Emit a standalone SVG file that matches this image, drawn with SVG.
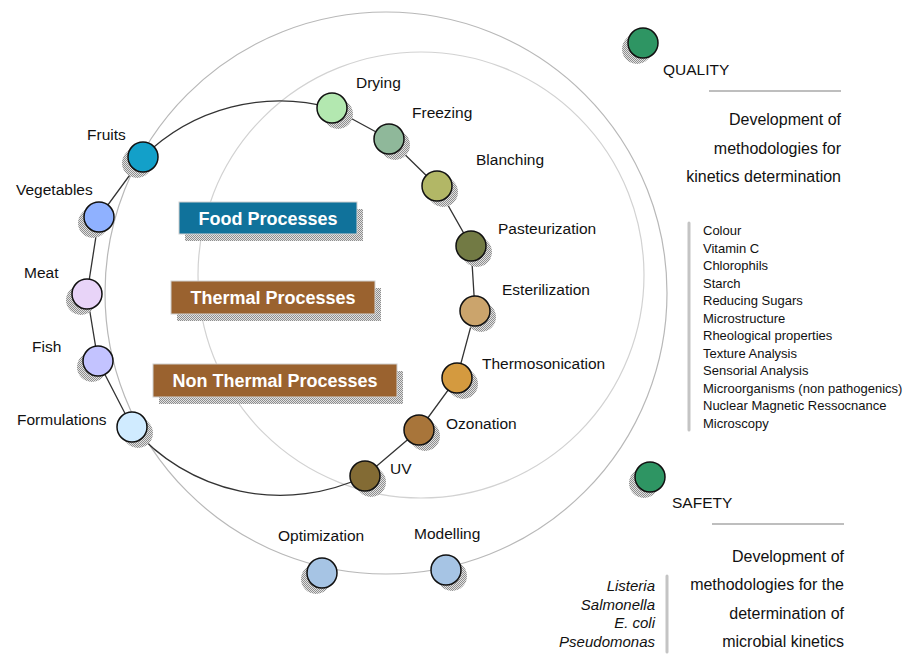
<svg xmlns="http://www.w3.org/2000/svg" width="922" height="660" viewBox="0 0 922 660">
  <defs>
    <!-- stippled grey used for the drop shadows -->
    <pattern id="dither" width="2" height="2" patternUnits="userSpaceOnUse">
      <rect width="2" height="2" fill="#e2e2e2"/>
      <rect width="1" height="1" fill="#8e8e8e"/>
      <rect x="1" y="1" width="1" height="1" fill="#8e8e8e"/>
    </pattern>
    <style>
      text { font-family: "Liberation Sans", Arial, sans-serif; fill: #111; }
      .lbl { font-size: 15.5px; }
      .desc { font-size: 16px; text-anchor: end; }
      .item { font-size: 13px; }
      .bug { font-size: 15px; font-style: italic; text-anchor: end; }
      .box-t { font-size: 18px; font-weight: bold; fill: #fff; text-anchor: middle; }
      .node { stroke: #111; stroke-width: 1.5; }
      .shadow { fill: url(#dither); }
      .ring { fill: none; stroke-width: 1.2; }
      .rule { stroke: #a8a8a8; stroke-width: 1.5; }
      .bar { stroke: #c4c4c4; stroke-width: 3; stroke-linecap: round; }
    </style>
  </defs>

  <rect width="922" height="660" fill="#fff"/>

  <!-- background rings -->
  <g id="rings">
    <circle class="ring" cx="386" cy="293" r="281" stroke="#b8b8b8"/>
    <circle class="ring" cx="421" cy="275" r="223" stroke="#d2d2d2"/>
  </g>

  <!-- process loop -->
  <g id="connectors">
    <path d="M143,157 A195,195 0 0 1 332,108 L389,139 L437,186 L471,246 L475,311 L457,378 L419,430 L365,476 A195,195 0 0 1 132,427 L98,361 L87,294 L99,217 Z" fill="none" stroke="#333" stroke-width="1.3"/>
  </g>

  <!-- category boxes -->
  <g id="food-processes">
    <rect x="185" y="209" width="178" height="32" class="shadow"/>
    <rect x="179" y="202" width="178" height="32" fill="#10729b" stroke="#cfcfcf" stroke-width="1"/>
    <text class="box-t" x="268" y="224.5">Food Processes</text>
  </g>
  <g id="thermal-processes">
    <rect x="177" y="288" width="204" height="33" class="shadow"/>
    <rect x="171" y="281" width="204" height="33" fill="#9a622f" stroke="#cfcfcf" stroke-width="1"/>
    <text class="box-t" x="273" y="304">Thermal Processes</text>
  </g>
  <g id="non-thermal-processes">
    <rect x="159" y="371" width="244" height="33" class="shadow"/>
    <rect x="153" y="364" width="244" height="33" fill="#9a622f" stroke="#cfcfcf" stroke-width="1"/>
    <text class="box-t" x="275" y="387">Non Thermal Processes</text>
  </g>

  <!-- process nodes -->
  <g id="drying">
    <circle class="shadow" cx="338" cy="114" r="15"/>
    <circle class="node" cx="332" cy="108" r="15" fill="#b3e8b0"/>
    <text class="lbl" x="356" y="88">Drying</text>
  </g>
  <g id="freezing">
    <circle class="shadow" cx="395" cy="145" r="15"/>
    <circle class="node" cx="389" cy="139" r="15" fill="#8fb89a"/>
    <text class="lbl" x="412" y="118">Freezing</text>
  </g>
  <g id="blanching">
    <circle class="shadow" cx="443" cy="192" r="15"/>
    <circle class="node" cx="437" cy="186" r="15" fill="#b2b766"/>
    <text class="lbl" x="476" y="165">Blanching</text>
  </g>
  <g id="pasteurization">
    <circle class="shadow" cx="477" cy="252" r="15"/>
    <circle class="node" cx="471" cy="246" r="15" fill="#727a44"/>
    <text class="lbl" x="498" y="234">Pasteurization</text>
  </g>
  <g id="esterilization">
    <circle class="shadow" cx="481" cy="317" r="15"/>
    <circle class="node" cx="475" cy="311" r="15" fill="#cba46c"/>
    <text class="lbl" x="502" y="295">Esterilization</text>
  </g>
  <g id="thermosonication">
    <circle class="shadow" cx="463" cy="384" r="15"/>
    <circle class="node" cx="457" cy="378" r="15" fill="#d49a3f"/>
    <text class="lbl" x="482" y="369">Thermosonication</text>
  </g>
  <g id="ozonation">
    <circle class="shadow" cx="425" cy="436" r="15"/>
    <circle class="node" cx="419" cy="430" r="15" fill="#a8753a"/>
    <text class="lbl" x="446" y="429">Ozonation</text>
  </g>
  <g id="uv">
    <circle class="shadow" cx="371" cy="482" r="15"/>
    <circle class="node" cx="365" cy="476" r="15" fill="#836b34"/>
    <text class="lbl" x="390" y="474">UV</text>
  </g>

  <!-- product nodes -->
  <g id="fruits">
    <circle class="shadow" cx="137" cy="163" r="15"/>
    <circle class="node" cx="143" cy="157" r="15" fill="#13a0c9"/>
    <text class="lbl" x="87" y="140">Fruits</text>
  </g>
  <g id="vegetables">
    <circle class="shadow" cx="93" cy="223" r="15"/>
    <circle class="node" cx="99" cy="217" r="15" fill="#8fb1ff"/>
    <text class="lbl" x="16" y="195">Vegetables</text>
  </g>
  <g id="meat">
    <circle class="shadow" cx="81" cy="300" r="15"/>
    <circle class="node" cx="87" cy="294" r="15" fill="#e8d4f8"/>
    <text class="lbl" x="24" y="278">Meat</text>
  </g>
  <g id="fish">
    <circle class="shadow" cx="92" cy="367" r="15"/>
    <circle class="node" cx="98" cy="361" r="15" fill="#c3c3ff"/>
    <text class="lbl" x="32" y="352">Fish</text>
  </g>
  <g id="formulations">
    <circle class="shadow" cx="138" cy="433" r="15"/>
    <circle class="node" cx="132" cy="427" r="15" fill="#d0ebff"/>
    <text class="lbl" x="17" y="425">Formulations</text>
  </g>

  <!-- tool nodes -->
  <g id="optimization">
    <circle class="shadow" cx="316" cy="579" r="15"/>
    <circle class="node" cx="322" cy="573" r="15" fill="#a6c4e4"/>
    <text class="lbl" x="278" y="541">Optimization</text>
  </g>
  <g id="modelling">
    <circle class="shadow" cx="452" cy="576" r="15"/>
    <circle class="node" cx="446" cy="570" r="15" fill="#a6c4e4"/>
    <text class="lbl" x="414" y="539">Modelling</text>
  </g>

  <!-- quality panel -->
  <g id="quality">
    <circle class="shadow" cx="637" cy="49" r="15"/>
    <circle class="node" cx="643" cy="43" r="15" fill="#2e9563"/>
    <text class="lbl" x="663" y="75">QUALITY</text>
    <line class="rule" x1="709" y1="91" x2="841" y2="91"/>
    <text class="desc" x="841" y="125">Development of</text>
    <text class="desc" x="841" y="154">methodologies for</text>
    <text class="desc" x="841" y="182">kinetics determination</text>
    <line class="bar" x1="689" y1="223" x2="689" y2="430"/>
    <text class="item" x="703" y="235">Colour</text>
    <text class="item" x="703" y="252.5">Vitamin C</text>
    <text class="item" x="703" y="270">Chlorophils</text>
    <text class="item" x="703" y="287.5">Starch</text>
    <text class="item" x="703" y="305">Reducing Sugars</text>
    <text class="item" x="703" y="322.5">Microstructure</text>
    <text class="item" x="703" y="340">Rheological properties</text>
    <text class="item" x="703" y="357.5">Texture Analysis</text>
    <text class="item" x="703" y="375">Sensorial Analysis</text>
    <text class="item" x="703" y="392.5">Microorganisms (non pathogenics)</text>
    <text class="item" x="703" y="410">Nuclear Magnetic Ressocnance</text>
    <text class="item" x="703" y="427.5">Microscopy</text>
  </g>

  <!-- safety panel -->
  <g id="safety">
    <circle class="shadow" cx="644" cy="483" r="15"/>
    <circle class="node" cx="650" cy="477" r="15" fill="#2e9563"/>
    <text class="lbl" x="672" y="508">SAFETY</text>
    <line class="rule" x1="712" y1="524" x2="844" y2="524"/>
    <text class="desc" x="844" y="562">Development of</text>
    <text class="desc" x="844" y="590">methodologies for the</text>
    <text class="desc" x="844" y="619">determination of</text>
    <text class="desc" x="844" y="647">microbial kinetics</text>
    <line class="bar" x1="667" y1="576" x2="667" y2="652"/>
    <text class="bug" x="655" y="591">Listeria</text>
    <text class="bug" x="655" y="610">Salmonella</text>
    <text class="bug" x="655" y="628">E. coli</text>
    <text class="bug" x="655" y="647">Pseudomonas</text>
  </g>
</svg>
